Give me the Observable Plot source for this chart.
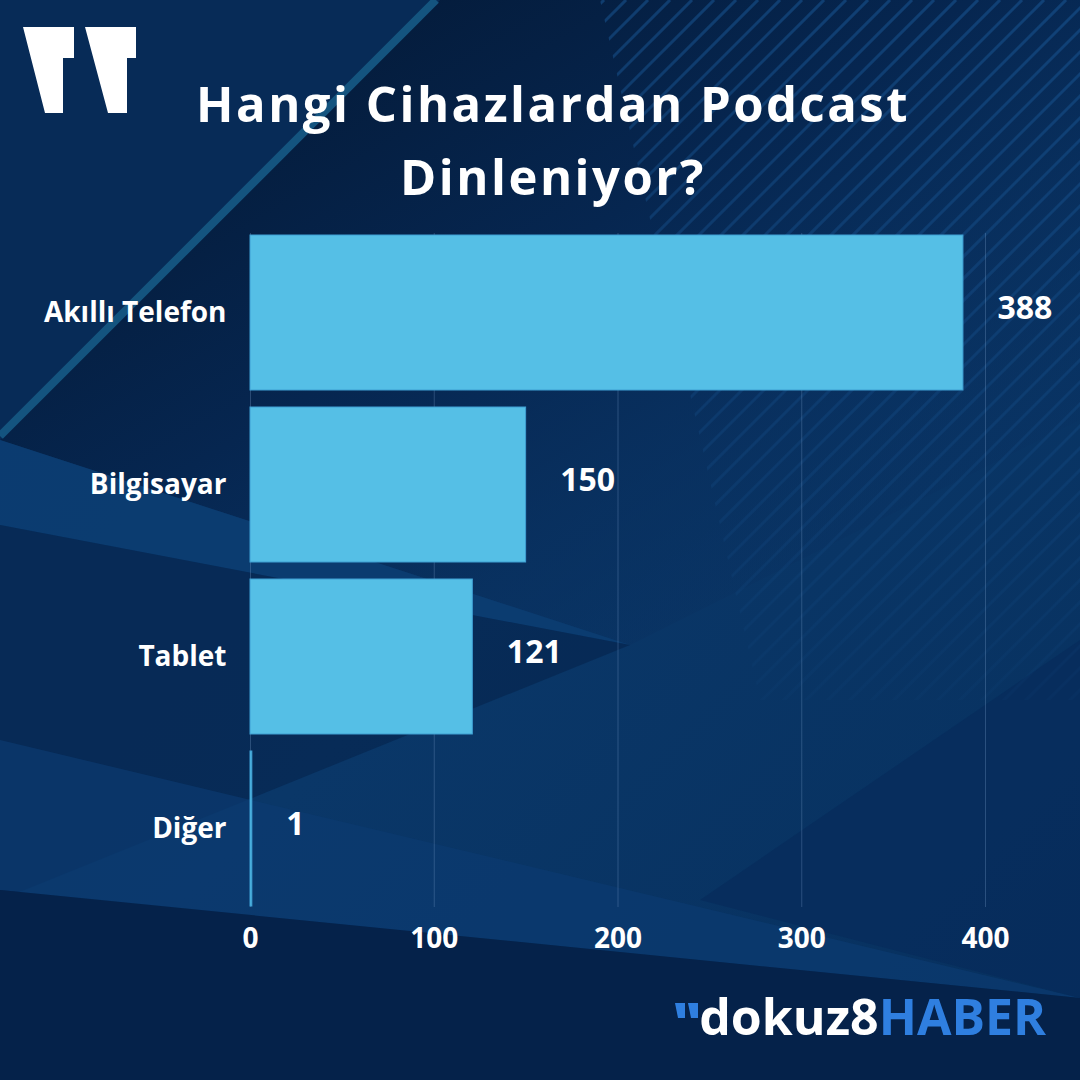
<!DOCTYPE html>
<html>
<head>
<meta charset="utf-8">
<script src="https://cdn.jsdelivr.net/npm/d3@7"></script>
<script src="https://cdn.jsdelivr.net/npm/@observablehq/plot@0.6"></script>
<style>
  html, body { margin: 0; padding: 0; background: #0a3463; }
  #card { position: relative; width: 1080px; height: 1080px; overflow: hidden; font-family: "Open Sans", sans-serif; }
  #bg { position: absolute; left: 0; top: 0; }
  #title { position: absolute; left: 0; width: 1106px; top: 67px; text-align: center; color: #fff;
           font-weight: 700; font-size: 49px; line-height: 73px; letter-spacing: 2.5px; }
  #chart { position: absolute; left: 0; top: 215px; }
  #logo { position: absolute; right: 34px; top: 982px; font-weight: 700; font-size: 50px; letter-spacing: 0px; }
</style>
</head>
<body>
<div id="card">
  <svg id="bg" width="1080" height="1080" viewBox="0 0 1080 1080">
    <defs>
      <linearGradient id="base" x1="0" y1="0" x2="1" y2="1">
        <stop offset="0" stop-color="#0a3261"/>
        <stop offset="0.5" stop-color="#0a3768"/>
        <stop offset="1" stop-color="#07305e"/>
      </linearGradient>
      <linearGradient id="dark" x1="0" y1="0" x2="1" y2="1">
        <stop offset="0" stop-color="#03152e"/>
        <stop offset="0.45" stop-color="#062650"/>
        <stop offset="1" stop-color="#0a3568" stop-opacity="0"/>
      </linearGradient>
      <clipPath id="stripeClip">
        <polygon points="600,0 1080,0 1080,700 760,700"/>
      </clipPath>
      <linearGradient id="fadeStripe" x1="0" y1="1" x2="1" y2="0">
        <stop offset="0" stop-color="#1a5a9a" stop-opacity="0.0"/>
        <stop offset="0.6" stop-color="#1a5a9a" stop-opacity="0.3"/>
        <stop offset="1" stop-color="#1a5a9a" stop-opacity="0.5"/>
      </linearGradient>
    </defs>
    <rect width="1080" height="1080" fill="url(#base)"/>
    <polygon points="0,0 440,0 0,440" fill="#072b57"/>
    <polygon points="440,0 1080,0 1080,420 630,645 0,440" fill="url(#dark)"/>
    <polygon points="0,440 630,645 0,525" fill="#0c3d72" opacity="0.85"/>
    <polygon points="0,525 630,645 0,900" fill="#062853" opacity="0.8"/>
    <polygon points="0,740 1080,998 0,890" fill="#0b3a70" opacity="0.7"/>
    <polygon points="0,890 1080,998 1080,1080 0,1080" fill="#05224a"/>
    <polygon points="700,900 1080,640 1080,998" fill="#07295a" opacity="0.6"/>
    <g id="stripes" clip-path="url(#stripeClip)" stroke="url(#fadeStripe)" stroke-width="3"></g>
    <line x1="0" y1="436" x2="436" y2="0" stroke="#14547f" stroke-width="8"/>
    <polygon points="23,27 74,27 74,58 63,58 63,113 45,113" fill="#fff"/>
    <polygon points="85,27 136,27 136,58 127,58 127,113 108,113" fill="#fff"/>
    <polygon points="675,1003 685,1003 685,1018 678,1018" fill="#2f7fe0"/>
    <polygon points="688,1003 698,1003 698,1018 691,1018" fill="#2f7fe0"/>
  </svg>
  <div id="title">Hangi Cihazlardan Podcast<br>Dinleniyor?</div>
  <div id="chart"></div>
  <div id="logo"><span style="color:#fff">dokuz8</span><span style="color:#2f7fe0">HABER</span></div>
</div>
<script>
// Data
const devices = ["Akıllı Telefon", "Bilgisayar", "Tablet", "Diğer"];
const counts = [388, 150, 121, 1];
const xTicks = [0, 100, 200, 300, 400];

const data = devices.map((d, i) => ({device: d, count: counts[i]}));

// decorative stripes in background
const g = document.getElementById("stripes");
for (let k = 560; k < 1900; k += 22) {
  const l = document.createElementNS("http://www.w3.org/2000/svg", "line");
  l.setAttribute("x1", k - 800); l.setAttribute("y1", 800);
  l.setAttribute("x2", k); l.setAttribute("y2", 0);
  g.appendChild(l);
}

const chart = Plot.plot({
  width: 1080,
  height: 760,
  marginLeft: 250,
  marginRight: 95,
  marginTop: 18,
  marginBottom: 68,
  style: {background: "transparent", color: "#fff", fontFamily: "'Open Sans', sans-serif", fontWeight: 700, overflow: "visible"},
  x: {domain: [0, 400], ticks: xTicks, label: null},
  y: {domain: devices, paddingInner: 0.1, paddingOuter: 0, label: null},
  marks: [
    Plot.gridX(xTicks, {stroke: "#7fa3cc", strokeOpacity: 0.3, strokeWidth: 1}),
    Plot.barX(data, {x: "count", y: "device", fill: "#55bfe6", stroke: "#3f9fd3", strokeWidth: 1}),
    Plot.text(data, {x: "count", y: "device", text: d => String(d.count), textAnchor: "start", dx: 34, dy: -4, fill: "#fff", fontSize: 32, fontWeight: 700, letterSpacing: 1}),
    Plot.axisX(xTicks, {tickSize: 0, tickPadding: 21, fontSize: 28, fontWeight: 700, fill: "#fff", label: null, letterSpacing: 1.5}),
    Plot.axisY({tickSize: 0, tickPadding: 24, fontSize: 28, fontWeight: 700, fill: "#fff", label: null, letterSpacing: 1.7})
  ]
});
document.getElementById("chart").appendChild(chart);
</script>
</body>
</html>
